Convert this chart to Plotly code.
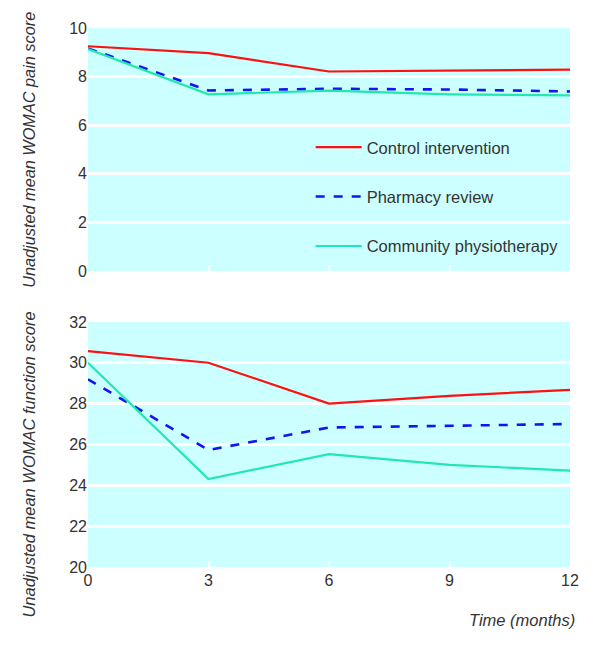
import plotly.graph_objects as go

# data
months = [0, 3, 6, 9, 12]
series_names = ["Control intervention", "Pharmacy review", "Community physiotherapy"]

pain_control = [9.25, 8.97, 8.21, 8.26, 8.29]
pain_pharmacy = [9.16, 7.43, 7.50, 7.47, 7.39]
pain_physio = [9.13, 7.27, 7.42, 7.27, 7.23]

func_control = [30.57, 30.0, 28.0, 28.38, 28.67]
func_pharmacy = [29.19, 25.73, 26.83, 26.91, 27.0]
func_physio = [30.0, 24.31, 25.53, 25.0, 24.72]

pain_ticks = [0, 2, 4, 6, 8, 10]
func_ticks = [20, 22, 24, 26, 28, 30, 32]

colors = ["#ff1010", "#1414f0", "#20e8b0"]
dashes = ["solid", "dash", "solid"]
widths = [2.2, 2.6, 2.2]

FONT = "Liberation Sans, Arial, sans-serif"
TXT = "#333333"

fig = go.Figure()

pain = [pain_control, pain_pharmacy, pain_physio]
func = [func_control, func_pharmacy, func_physio]

for i in range(3):
    fig.add_trace(go.Scatter(
        x=months, y=pain[i], mode="lines", name=series_names[i],
        line=dict(color=colors[i], dash=dashes[i], width=widths[i]),
        xaxis="x2", yaxis="y2", legendgroup=str(i), showlegend=True))
for i in range(3):
    fig.add_trace(go.Scatter(
        x=months, y=func[i], mode="lines", name=series_names[i],
        line=dict(color=colors[i], dash=dashes[i], width=widths[i]),
        xaxis="x", yaxis="y", legendgroup=str(i), showlegend=False))

axis_common = dict(
    showline=False, zeroline=False,
    gridcolor="white", gridwidth=3,
    tickfont=dict(family=FONT, size=16, color=TXT),
)

# y titles as rotated annotations so they can sit where the reference has them
def ytitle(text, ypaper, size):
    return dict(text="<i>" + text + "</i>", textangle=-90,
                xref="paper", yref="paper", x=0, y=ypaper,
                xanchor="center", yanchor="middle", xshift=-59,
                showarrow=False, font=dict(family=FONT, size=size, color=TXT))

# page body has an 8px margin, so the margins are shifted to compensate
fig.update_layout(
    width=600, height=654,
    margin=dict(l=80, r=38, t=18, b=95),
    paper_bgcolor="white",
    plot_bgcolor="#ccffff",
    font=dict(family=FONT, color=TXT),
    xaxis=dict(domain=[0, 1], range=[0, 12], tickvals=months, showgrid=False,
               ticks="inside", ticklen=5, tickwidth=2, tickcolor="white",
               ticklabelstandoff=2, anchor="y", **axis_common),
    yaxis=dict(domain=[0, 0.4547], range=[20, 32], tickvals=func_ticks,
               anchor="x", **axis_common),
    xaxis2=dict(domain=[0, 1], range=[0, 12], tickvals=months, showgrid=False,
                showticklabels=False, ticks="inside", ticklen=5, tickwidth=2,
                tickcolor="white", anchor="y2", matches="x", **axis_common),
    yaxis2=dict(domain=[0.549, 1], range=[0, 10], tickvals=pain_ticks,
                anchor="x2", **axis_common),
    legend=dict(
        x=0.462, y=0.811, xref="paper", yref="paper",
        xanchor="left", yanchor="top",
        bgcolor="rgba(0,0,0,0)",
        font=dict(family=FONT, size=16.5, color=TXT),
        tracegroupgap=25, itemwidth=46,
    ),
    annotations=[
        ytitle("Unadjusted mean WOMAC pain score", 0.774, 16.3),
        ytitle("Unadjusted mean WOMAC function score", 0.190, 16.5),
        dict(text="<i>Time (months)</i>", xref="paper", yref="paper",
             x=1, y=0, xanchor="right", yanchor="top", xshift=7, yshift=-42,
             showarrow=False, font=dict(family=FONT, size=16.5, color=TXT)),
    ],
)

fig.write_html("out.html")
